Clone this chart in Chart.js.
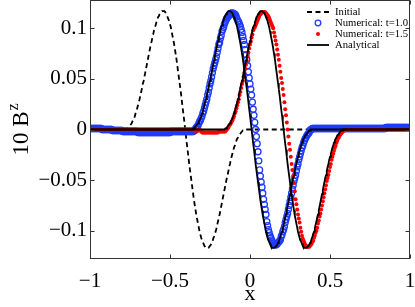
<!DOCTYPE html>
<html>
<head>
<meta charset="utf-8">
<script src="https://cdn.jsdelivr.net/npm/chart.js@4.4.0/dist/chart.umd.min.js"></script>
<style>
  html, body { margin: 0; padding: 0; background: #fff; }
  canvas { display: block; }
</style>
</head>
<body>
<canvas id="chart" width="415" height="307"></canvas>
<script>
// sample positions along x (one row = 0.05)
const xs = [
-1,-.995,-.99,-.985,-.98,-.975,-.97,-.965,-.96,-.955,
-.95,-.945,-.94,-.935,-.93,-.925,-.92,-.915,-.91,-.905,
-.9,-.895,-.89,-.885,-.88,-.875,-.87,-.865,-.86,-.855,
-.85,-.845,-.84,-.835,-.83,-.825,-.82,-.815,-.81,-.805,
-.8,-.795,-.79,-.785,-.78,-.775,-.77,-.765,-.76,-.755,
-.75,-.745,-.74,-.735,-.73,-.725,-.72,-.715,-.71,-.705,
-.7,-.695,-.69,-.685,-.68,-.675,-.67,-.665,-.66,-.655,
-.65,-.645,-.64,-.635,-.63,-.625,-.62,-.615,-.61,-.605,
-.6,-.595,-.59,-.585,-.58,-.575,-.57,-.565,-.56,-.555,
-.55,-.545,-.54,-.535,-.53,-.525,-.52,-.515,-.51,-.505,
-.5,-.495,-.49,-.485,-.48,-.475,-.47,-.465,-.46,-.455,
-.45,-.445,-.44,-.435,-.43,-.425,-.42,-.415,-.41,-.405,
-.4,-.395,-.39,-.385,-.38,-.375,-.37,-.365,-.36,-.355,
-.35,-.345,-.34,-.335,-.33,-.325,-.32,-.315,-.31,-.305,
-.3,-.295,-.29,-.285,-.28,-.275,-.27,-.265,-.26,-.255,
-.25,-.245,-.24,-.235,-.23,-.225,-.22,-.215,-.21,-.205,
-.2,-.195,-.19,-.185,-.18,-.175,-.17,-.165,-.16,-.155,
-.15,-.145,-.14,-.135,-.13,-.125,-.12,-.115,-.11,-.105,
-.1,-.095,-.09,-.085,-.08,-.075,-.07,-.065,-.06,-.055,
-.05,-.045,-.04,-.035,-.03,-.025,-.02,-.015,-.01,-.005,
0,.005,.01,.015,.02,.025,.03,.035,.04,.045,
.05,.055,.06,.065,.07,.075,.08,.085,.09,.095,
.1,.105,.11,.115,.12,.125,.13,.135,.14,.145,
.15,.155,.16,.165,.17,.175,.18,.185,.19,.195,
.2,.205,.21,.215,.22,.225,.23,.235,.24,.245,
.25,.255,.26,.265,.27,.275,.28,.285,.29,.295,
.3,.305,.31,.315,.32,.325,.33,.335,.34,.345,
.35,.355,.36,.365,.37,.375,.38,.385,.39,.395,
.4,.405,.41,.415,.42,.425,.43,.435,.44,.445,
.45,.455,.46,.465,.47,.475,.48,.485,.49,.495,
.5,.505,.51,.515,.52,.525,.53,.535,.54,.545,
.55,.555,.56,.565,.57,.575,.58,.585,.59,.595,
.6,.605,.61,.615,.62,.625,.63,.635,.64,.645,
.65,.655,.66,.665,.67,.675,.68,.685,.69,.695,
.7,.705,.71,.715,.72,.725,.73,.735,.74,.745,
.75,.755,.76,.765,.77,.775,.78,.785,.79,.795,
.8,.805,.81,.815,.82,.825,.83,.835,.84,.845,
.85,.855,.86,.865,.87,.875,.88,.885,.89,.895,
.9,.905,.91,.915,.92,.925,.93,.935,.94,.945,
.95,.955,.96,.965,.97,.975,.98,.985,.99,.995,
1];

// initial profile (dashed)
const initialY = [
0,0,0,0,0,0,0,0,0,0,
0,0,0,0,0,0,0,0,0,0,
0,0,0,0,0,0,0,0,0,0,
0,0,0,0,0,0,0,0,0,0,
0,0,0,0,0,0,.001,.001,.002,.003,
.004,.005,.006,.008,.009,.011,.013,.016,.018,.021,
.024,.027,.030,.034,.037,.041,.045,.048,.052,.056,
.060,.064,.068,.072,.076,.080,.084,.087,.091,.094,
.098,.101,.103,.106,.108,.111,.112,.114,.115,.116,
.117,.117,.117,.117,.116,.115,.113,.111,.109,.107,
.104,.101,.097,.093,.089,.085,.080,.075,.070,.064,
.058,.052,.046,.040,.034,.027,.020,.014,.007,0,
-.007,-.014,-.020,-.027,-.034,-.040,-.046,-.052,-.058,-.064,
-.070,-.075,-.080,-.085,-.089,-.093,-.097,-.101,-.104,-.107,
-.109,-.111,-.113,-.115,-.116,-.117,-.117,-.117,-.117,-.116,
-.115,-.114,-.112,-.111,-.108,-.106,-.103,-.101,-.098,-.094,
-.091,-.087,-.084,-.080,-.076,-.072,-.068,-.064,-.060,-.056,
-.052,-.048,-.045,-.041,-.037,-.034,-.030,-.027,-.024,-.021,
-.018,-.016,-.013,-.011,-.009,-.008,-.006,-.005,-.004,-.003,
-.002,-.001,-.001,0,0,0,0,0,0,0,
0,0,0,0,0,0,0,0,0,0,
0,0,0,0,0,0,0,0,0,0,
0,0,0,0,0,0,0,0,0,0,
0,0,0,0,0,0,0,0,0,0,
0,0,0,0,0,0,0,0,0,0,
0,0,0,0,0,0,0,0,0,0,
0,0,0,0,0,0,0,0,0,0,
0,0,0,0,0,0,0,0,0,0,
0,0,0,0,0,0,0,0,0,0,
0,0,0,0,0,0,0,0,0,0,
0,0,0,0,0,0,0,0,0,0,
0,0,0,0,0,0,0,0,0,0,
0,0,0,0,0,0,0,0,0,0,
0,0,0,0,0,0,0,0,0,0,
0,0,0,0,0,0,0,0,0,0,
0,0,0,0,0,0,0,0,0,0,
0,0,0,0,0,0,0,0,0,0,
0,0,0,0,0,0,0,0,0,0,
0,0,0,0,0,0,0,0,0,0,
0,0,0,0,0,0,0,0,0,0,
0];

// analytical, t=1.0
const analytic10Y = [
0,0,0,0,0,0,0,0,0,0,
0,0,0,0,0,0,0,0,0,0,
0,0,0,0,0,0,0,0,0,0,
0,0,0,0,0,0,0,0,0,0,
0,0,0,0,0,0,0,0,0,0,
0,0,0,0,0,0,0,0,0,0,
0,0,0,0,0,0,0,0,0,0,
0,0,0,0,0,0,0,0,0,0,
0,0,0,0,0,0,0,0,0,0,
0,0,0,0,0,0,0,0,0,0,
0,0,0,0,0,0,0,0,0,0,
0,0,0,0,0,0,0,0,0,0,
0,0,0,0,0,0,0,0,0,.001,
.001,.002,.003,.004,.005,.006,.008,.009,.011,.013,
.016,.018,.021,.024,.027,.030,.034,.037,.041,.045,
.048,.052,.056,.060,.064,.068,.072,.076,.080,.084,
.087,.091,.094,.098,.101,.103,.106,.108,.111,.112,
.114,.115,.116,.117,.117,.117,.117,.116,.115,.113,
.111,.109,.107,.104,.101,.097,.093,.089,.085,.080,
.075,.070,.064,.058,.052,.046,.040,.034,.027,.020,
.014,.007,0,-.007,-.014,-.020,-.027,-.034,-.040,-.046,
-.052,-.058,-.064,-.070,-.075,-.080,-.085,-.089,-.093,-.097,
-.101,-.104,-.107,-.109,-.111,-.113,-.115,-.116,-.117,-.117,
-.117,-.117,-.116,-.115,-.114,-.112,-.111,-.108,-.106,-.103,
-.101,-.098,-.094,-.091,-.087,-.084,-.080,-.076,-.072,-.068,
-.064,-.060,-.056,-.052,-.048,-.045,-.041,-.037,-.034,-.030,
-.027,-.024,-.021,-.018,-.016,-.013,-.011,-.009,-.008,-.006,
-.005,-.004,-.003,-.002,-.001,-.001,0,0,0,0,
0,0,0,0,0,0,0,0,0,0,
0,0,0,0,0,0,0,0,0,0,
0,0,0,0,0,0,0,0,0,0,
0,0,0,0,0,0,0,0,0,0,
0,0,0,0,0,0,0,0,0,0,
0,0,0,0,0,0,0,0,0,0,
0,0,0,0,0,0,0,0,0,0,
0,0,0,0,0,0,0,0,0,0,
0,0,0,0,0,0,0,0,0,0,
0,0,0,0,0,0,0,0,0,0,
0,0,0,0,0,0,0,0,0,0,
0,0,0,0,0,0,0,0,0,0,
0];

// analytical, t=1.5
const analytic15Y = [
0,0,0,0,0,0,0,0,0,0,
0,0,0,0,0,0,0,0,0,0,
0,0,0,0,0,0,0,0,0,0,
0,0,0,0,0,0,0,0,0,0,
0,0,0,0,0,0,0,0,0,0,
0,0,0,0,0,0,0,0,0,0,
0,0,0,0,0,0,0,0,0,0,
0,0,0,0,0,0,0,0,0,0,
0,0,0,0,0,0,0,0,0,0,
0,0,0,0,0,0,0,0,0,0,
0,0,0,0,0,0,0,0,0,0,
0,0,0,0,0,0,0,0,0,0,
0,0,0,0,0,0,0,0,0,0,
0,0,0,0,0,0,0,0,0,0,
0,0,0,0,0,0,0,0,0,0,
0,0,0,0,0,0,0,0,0,0,
0,0,0,0,0,0,0,0,0,.001,
.001,.002,.003,.004,.005,.006,.008,.009,.011,.013,
.016,.018,.021,.024,.027,.030,.034,.037,.041,.045,
.048,.052,.056,.060,.064,.068,.072,.076,.080,.084,
.087,.091,.094,.098,.101,.103,.106,.108,.111,.112,
.114,.115,.116,.117,.117,.117,.117,.116,.115,.113,
.111,.109,.107,.104,.101,.097,.093,.089,.085,.080,
.075,.070,.064,.058,.052,.046,.040,.034,.027,.020,
.014,.007,0,-.007,-.014,-.020,-.027,-.034,-.040,-.046,
-.052,-.058,-.064,-.070,-.075,-.080,-.085,-.089,-.093,-.097,
-.101,-.104,-.107,-.109,-.111,-.113,-.115,-.116,-.117,-.117,
-.117,-.117,-.116,-.115,-.114,-.112,-.111,-.108,-.106,-.103,
-.101,-.098,-.094,-.091,-.087,-.084,-.080,-.076,-.072,-.068,
-.064,-.060,-.056,-.052,-.048,-.045,-.041,-.037,-.034,-.030,
-.027,-.024,-.021,-.018,-.016,-.013,-.011,-.009,-.008,-.006,
-.005,-.004,-.003,-.002,-.001,-.001,0,0,0,0,
0,0,0,0,0,0,0,0,0,0,
0,0,0,0,0,0,0,0,0,0,
0,0,0,0,0,0,0,0,0,0,
0,0,0,0,0,0,0,0,0,0,
0,0,0,0,0,0,0,0,0,0,
0,0,0,0,0,0,0,0,0,0,
0,0,0,0,0,0,0,0,0,0,
0,0,0,0,0,0,0,0,0,0,
0];

// numerical, t=1.0 (open circles)
const numeric10Y = [
.001,.001,.001,.001,.001,.001,.001,.001,.001,.001,
.001,.001,.001,.001,.001,0,0,0,0,0,
0,0,0,0,0,0,0,0,-.001,-.001,
-.001,-.001,-.001,-.001,-.001,-.001,-.001,-.001,-.001,-.001,
-.001,-.002,-.002,-.002,-.002,-.002,-.002,-.002,-.002,-.002,
-.002,-.002,-.002,-.002,-.002,-.002,-.002,-.002,-.002,-.002,
-.003,-.003,-.003,-.003,-.003,-.003,-.003,-.003,-.003,-.003,
-.003,-.003,-.003,-.003,-.003,-.003,-.003,-.003,-.003,-.003,
-.003,-.003,-.003,-.003,-.003,-.003,-.003,-.003,-.003,-.003,
-.003,-.003,-.003,-.003,-.003,-.003,-.003,-.003,-.003,-.003,
-.003,-.002,-.002,-.002,-.002,-.002,-.002,-.002,-.002,-.002,
-.002,-.002,-.002,-.002,-.002,-.002,-.002,-.002,-.002,-.002,
-.002,-.002,-.002,-.002,-.002,-.002,-.002,-.002,-.002,-.002,
-.001,-.001,.001,.002,.003,.004,.006,.008,.009,.011,
.013,.016,.018,.021,.024,.027,.030,.034,.037,.041,
.045,.048,.052,.056,.060,.063,.066,.069,.072,.076,
.080,.084,.086,.090,.093,.097,.099,.101,.104,.106,
.108,.110,.111,.112,.113,.114,.115,.115,.115,.115,
.114,.114,.113,.111,.109,.107,.106,.104,.102,.099,
.096,.092,.088,.084,.079,.074,.069,.063,.057,.051,
.045,.040,.034,.027,.020,.014,.007,0,-.007,-.014,
-.022,-.031,-.040,-.046,-.052,-.057,-.063,-.069,-.074,-.079,
-.084,-.091,-.095,-.099,-.102,-.105,-.107,-.109,-.111,-.112,
-.113,-.114,-.114,-.114,-.113,-.112,-.111,-.110,-.109,-.106,
-.104,-.101,-.099,-.096,-.092,-.089,-.086,-.083,-.079,-.075,
-.071,-.067,-.063,-.059,-.055,-.051,-.048,-.045,-.041,-.037,
-.034,-.030,-.027,-.024,-.021,-.018,-.016,-.013,-.011,-.009,
-.008,-.006,-.005,-.004,-.003,-.001,0,0,.001,.001,
.001,.001,.001,.001,.001,.001,.001,.001,.001,.001,
.001,.001,.001,.001,.001,.001,.001,.001,.001,.001,
.001,.001,.001,.001,.001,.001,.001,.001,.001,.001,
.001,.001,.001,.001,.001,.001,.001,.001,.001,.001,
.001,.001,.001,.001,.001,.001,.001,.001,.001,.001,
.001,.001,.001,.001,.001,.001,.001,.001,.001,.001,
.001,.001,.001,.001,.001,.001,.001,.001,.001,.001,
.001,.001,.001,.001,.001,.001,.001,.001,.001,.001,
.001,.001,.001,.001,.001,.001,.001,.001,.001,.001,
.002,.002,.002,.002,.002,.002,.002,.002,.002,.002,
.002,.002,.002,.002,.002,.002,.002,.002,.002,.002,
.002,.002,.002,.002,.002,.002,.002,.002,.002,.002,
.002];

// numerical, t=1.5 (filled dots)
const numeric15Y = [
0,0,0,0,0,0,0,0,0,0,
0,0,0,0,0,0,0,0,0,0,
0,0,0,0,0,0,0,0,0,0,
0,0,0,0,0,0,0,0,0,0,
0,0,0,0,0,0,0,0,0,0,
0,0,0,0,0,0,0,0,0,0,
0,0,0,0,0,0,0,0,0,0,
0,0,0,0,0,0,0,0,0,0,
0,0,0,0,0,0,0,0,0,0,
0,0,0,0,0,0,0,0,0,0,
0,0,0,0,0,0,0,0,0,0,
0,0,0,0,0,0,0,0,0,0,
0,0,0,0,0,0,0,0,0,0,
-.001,-.001,-.001,-.001,-.001,-.001,-.001,-.001,-.001,-.001,
-.003,-.003,-.003,-.003,-.003,-.003,-.003,-.003,-.003,-.003,
-.003,-.003,-.003,-.003,-.003,-.003,-.003,-.003,-.003,-.003,
-.003,-.002,-.002,-.002,-.002,-.002,-.002,-.002,-.002,-.002,
-.001,0,.001,.002,.004,.005,.006,.008,.009,.011,
.013,.016,.018,.021,.024,.027,.030,.034,.037,.041,
.045,.048,.052,.056,.060,.064,.068,.072,.076,.080,
.084,.087,.091,.094,.098,.100,.101,.103,.105,.107,
.109,.111,.113,.114,.115,.116,.116,.116,.116,.116,
.115,.114,.113,.112,.110,.108,.106,.104,.102,.100,
.096,.092,.088,.084,.079,.074,.069,.063,.057,.051,
.046,.040,.034,.027,.020,.014,.007,0,-.007,-.014,
-.020,-.027,-.034,-.040,-.046,-.053,-.061,-.069,-.074,-.079,
-.084,-.088,-.092,-.097,-.101,-.105,-.108,-.110,-.112,-.114,
-.115,-.116,-.116,-.116,-.116,-.115,-.114,-.113,-.111,-.110,
-.107,-.105,-.102,-.100,-.097,-.093,-.090,-.086,-.083,-.079,
-.075,-.071,-.067,-.063,-.059,-.055,-.051,-.048,-.045,-.041,
-.037,-.034,-.030,-.027,-.024,-.021,-.018,-.016,-.013,-.011,
-.009,-.008,-.006,-.005,-.004,-.003,-.002,-.001,-.001,0,
0,0,0,0,0,0,0,0,0,0,
0,0,0,0,0,0,0,0,0,0,
0,0,0,0,0,0,0,0,0,0,
0,0,0,0,0,0,0,0,0,0,
0,0,0,0,0,0,0,0,0,0,
0,0,0,0,0,0,0,0,0,0,
0,0,0,0,0,0,0,0,0,0,
0,0,0,0,0,0,0,0,0,0,
0];

const xTicks = [-1, -0.5, 0, 0.5, 1];
const xTickLabels = ['\u22121', '\u22120.5', '0', '0.5', '1'];
const yTicks = [-0.1, -0.05, 0, 0.05, 0.1];
const yTickLabels = ['\u22120.1', '\u22120.05', '0', '0.05', '0.1'];
const legendLabels = ['Initial', 'Numerical: t=1.0', 'Numerical: t=1.5', 'Analytical'];

const SERIF = "'Liberation Serif', 'Times New Roman', serif";
const BLUE = 'rgb(30,60,255)';
const RED = 'rgb(255,0,0)';
const DASH = [5, 3.5];

// box, inward ticks, axis titles and legend
const decorations = {
  id: 'decorations',
  afterDraw(chart){
    const { ctx, chartArea: a, scales: { x, y } } = chart;
    const l = Math.round(a.left) + 0.5, r = Math.round(a.right) - 0.5;
    const t = Math.round(a.top) + 0.5, b = Math.round(a.bottom) - 0.5;
    ctx.save();
    ctx.strokeStyle = '#333'; ctx.lineWidth = 1;
    ctx.strokeRect(l, t, r - l, b - t);
    ctx.beginPath();
    xTicks.forEach(v => {
      const px = Math.round(x.getPixelForValue(v)) + 0.5;
      ctx.moveTo(px, b); ctx.lineTo(px, b - 4);
      ctx.moveTo(px, t); ctx.lineTo(px, t + 4);
    });
    yTicks.forEach(v => {
      const py = Math.round(y.getPixelForValue(v)) + 0.5;
      ctx.moveTo(l, py); ctx.lineTo(l + 4, py);
      ctx.moveTo(r, py); ctx.lineTo(r - 4, py);
    });
    ctx.stroke();

    // x title
    ctx.fillStyle = '#000';
    ctx.font = '22px ' + SERIF;
    ctx.textAlign = 'center'; ctx.textBaseline = 'middle';
    ctx.fillText('x', (a.left + a.right) / 2, 294);

    // y title: 10 B^z
    ctx.save();
    ctx.translate(28, (a.top + a.bottom) / 2);
    ctx.rotate(-Math.PI / 2);
    ctx.textAlign = 'left'; ctx.textBaseline = 'alphabetic';
    ctx.font = '23px ' + SERIF;
    const w1 = ctx.measureText('10 B').width;
    ctx.font = '16px ' + SERIF;
    const w2 = ctx.measureText('z').width;
    const x0 = -(w1 + w2 + 1) / 2;
    ctx.font = '23px ' + SERIF;
    ctx.fillText('10 B', x0, 0);
    ctx.font = '16px ' + SERIF;
    ctx.fillText('z', x0 + w1 + 1, -10);
    ctx.restore();

    // legend
    const lx0 = 307, lx1 = 329, mx = 318, tx = 335;
    ctx.font = '10.7px ' + SERIF;
    ctx.textAlign = 'left'; ctx.textBaseline = 'middle';
    legendLabels.forEach((lab, i) => {
      const ly = 12 + i * 11;
      if(i === 0 || i === 3){
        ctx.beginPath();
        ctx.setLineDash(i === 0 ? DASH : []);
        ctx.strokeStyle = '#000'; ctx.lineWidth = 1.8;
        ctx.moveTo(lx0, ly); ctx.lineTo(lx1, ly); ctx.stroke();
        ctx.setLineDash([]);
      } else if(i === 1){
        ctx.beginPath(); ctx.strokeStyle = BLUE; ctx.lineWidth = 1.3;
        ctx.arc(mx, ly, 2.8, 0, Math.PI * 2); ctx.stroke();
      } else {
        ctx.beginPath(); ctx.fillStyle = RED;
        ctx.arc(mx, ly, 2, 0, Math.PI * 2); ctx.fill();
      }
      ctx.fillStyle = '#000';
      ctx.fillText(lab, tx, ly);
    });
    ctx.restore();
  }
};

new Chart(document.getElementById('chart'), {
  type: 'line',
  data: {
    labels: xs,
    datasets: [
      { label: 'Initial', data: initialY, borderColor: '#000', borderWidth: 1.8, borderDash: DASH,
        pointRadius: 0, fill: false, tension: 0, order: 5 },
      { label: 'Numerical: t=1.0', data: numeric10Y, showLine: false, pointStyle: 'circle',
        pointRadius: 3, pointBorderWidth: 1.3, pointBorderColor: BLUE,
        pointBackgroundColor: 'rgba(0,0,0,0)', order: 4 },
      { label: 'Numerical: t=1.5', data: numeric15Y, showLine: false, pointStyle: 'circle',
        pointRadius: 2, pointBorderWidth: 0, pointBorderColor: RED,
        pointBackgroundColor: RED, order: 3 },
      { label: 'Analytical t=1.0', data: analytic10Y, borderColor: '#000', borderWidth: 1.8,
        pointRadius: 0, fill: false, tension: 0, order: 2 },
      { label: 'Analytical t=1.5', data: analytic15Y, borderColor: '#000', borderWidth: 1.8,
        pointRadius: 0, fill: false, tension: 0, order: 1 }
    ]
  },
  options: {
    responsive: false,
    animation: false,
    devicePixelRatio: 1,
    layout: { autoPadding: false, padding: { top: 0, right: 5, left: 0, bottom: 0 } },
    plugins: { legend: { display: false }, tooltip: { enabled: false } },
    scales: {
      x: {
        type: 'linear', min: -1, max: 1,
        afterBuildTicks: s => { s.ticks = xTicks.map(v => ({ value: v })); },
        afterFit: s => { s.height = 48; s.paddingLeft = 0; s.paddingRight = 0; },
        grid: { display: false, drawTicks: false },
        border: { display: false },
        ticks: { callback: (v, i) => xTickLabels[i], color: '#000', padding: 10,
          maxRotation: 0, autoSkip: false, font: { family: SERIF, size: 21 } }
      },
      y: {
        type: 'linear', min: -0.128, max: 0.128,
        afterBuildTicks: s => { s.ticks = yTicks.map(v => ({ value: v })); },
        afterFit: s => { s.width = 90; s.paddingTop = 0; s.paddingBottom = 0; },
        grid: { display: false, drawTicks: false },
        border: { display: false },
        ticks: { callback: (v, i) => yTickLabels[i], color: '#000', padding: 3,
          autoSkip: false, font: { family: SERIF, size: 21 } }
      }
    }
  },
  plugins: [decorations]
});
</script>
</body>
</html>
